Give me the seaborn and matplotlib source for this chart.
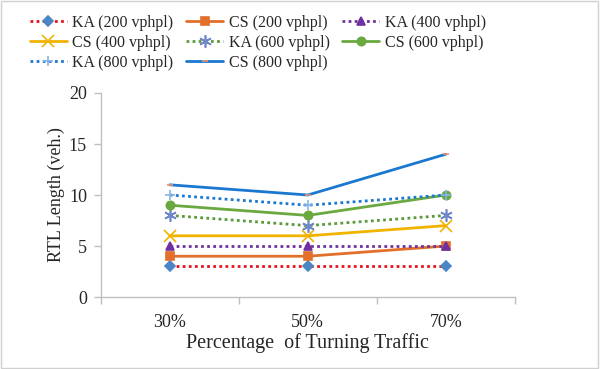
import numpy as np
import pandas as pd
import matplotlib
matplotlib.use("Agg")
import matplotlib.pyplot as plt
import seaborn as sns

# data
categories = ["30%", "50%", "70%"]
ka_200 = [3, 3, 3]
cs_200 = [4, 4, 5]
ka_400 = [5, 5, 5]
cs_400 = [6, 6, 7]
ka_600 = [8, 7, 8]
cs_600 = [9, 8, 10]
ka_800 = [10, 9, 10]
cs_800 = [11, 10, 14]

series = [
    ("KA (200 vphpl)", ka_200),
    ("CS (200 vphpl)", cs_200),
    ("KA (400 vphpl)", ka_400),
    ("CS (400 vphpl)", cs_400),
    ("KA (600 vphpl)", ka_600),
    ("CS (600 vphpl)", cs_600),
    ("KA (800 vphpl)", ka_800),
    ("CS (800 vphpl)", cs_800),
]

# line colour, line style, marker, marker face, marker edge, marker size
styles = {
    "KA (200 vphpl)": ("#e8141c", (0, (1, 1.2)), "D", "#4a86c5", "#4a86c5", 5),
    "CS (200 vphpl)": ("#e2702a", "-", "s", "#e2702a", "#e2702a", 6),
    "KA (400 vphpl)": ("#7030a0", (0, (1, 1.2)), "^", "#7030a0", "#7030a0", 6),
    "CS (400 vphpl)": ("#f0b400", "-", "x", "#f0b400", "#f0b400", 8),
    "KA (600 vphpl)": ("#5a9a3a", (0, (1, 1.2)), (6, 2, 0), "#6f86c8", "#6f86c8", 9),
    "CS (600 vphpl)": ("#6aa840", "-", "o", "#6aa840", "#6aa840", 6),
    "KA (800 vphpl)": ("#1a78d0", (0, (1, 1.2)), "+", "#8ab4e8", "#8ab4e8", 7),
    "CS (800 vphpl)": ("#1a78d0", "-", "_", "#f09070", "#f09070", 5),
}

sns.set_theme(style="white")
plt.rcParams["font.family"] = ["Liberation Serif", "DejaVu Serif"]

fig = plt.figure(figsize=(6.0, 3.69), dpi=100)
ax = fig.add_axes([0.168, 0.195, 0.69, 0.553])

xpos = np.arange(len(categories))
for name, vals in series:
    col, ls, mk, mfc, mec, ms = styles[name]
    df = pd.DataFrame({"x": xpos, "y": vals})
    sns.lineplot(data=df, x="x", y="y", ax=ax, color=col, linestyle=ls,
                 linewidth=2, marker=mk, markersize=ms, markerfacecolor=mfc,
                 markeredgecolor=mec, markeredgewidth=1.2, label=name)

ax.set_xlim(-0.5, len(categories) - 0.5)
ax.set_ylim(0, 20)
ax.set_yticks([0, 5, 10, 15, 20])
ax.set_xticks(xpos)
ax.set_xticklabels(categories)
ax.set_xticks(np.arange(len(categories) + 1) - 0.5, minor=True)
ax.tick_params(axis="x", which="major", length=0, labelsize=13, pad=12)
ax.tick_params(axis="x", which="minor", length=5, width=1, color="#bfbfbf",
               direction="out", bottom=True)
ax.tick_params(axis="y", length=5, width=1, color="#bfbfbf", direction="out",
               left=True, labelsize=13, pad=5)
for side in ["top", "right"]:
    ax.spines[side].set_visible(False)
for side in ["left", "bottom"]:
    ax.spines[side].set_color("#bfbfbf")
    ax.spines[side].set_linewidth(1)

ax.set_xlabel("Percentage  of Turning Traffic", fontsize=14.5, labelpad=2)
ax.set_ylabel("RTL Length (veh.)", fontsize=13, labelpad=3)

# legend reads across rows, matplotlib fills by column
handles, labels = ax.get_legend_handles_labels()
ax.legend_.remove()
order = [0, 3, 6, 1, 4, 7, 2, 5]
fig.legend([handles[i] for i in order], [labels[i] for i in order],
           ncol=3, loc="upper left", bbox_to_anchor=(0.05, 0.96),
           frameon=False, fontsize=11.5, handlelength=2.3,
           handletextpad=0.35, columnspacing=0.8, labelspacing=0.25,
           borderpad=0, borderaxespad=0)

# thin grey border round the figure
fig.patches.append(plt.Rectangle((0.002, 0.003), 0.995, 0.993,
                                 transform=fig.transFigure, fill=False,
                                 edgecolor="#d0d0d0", linewidth=1))

fig.savefig("out.png", dpi=100)
